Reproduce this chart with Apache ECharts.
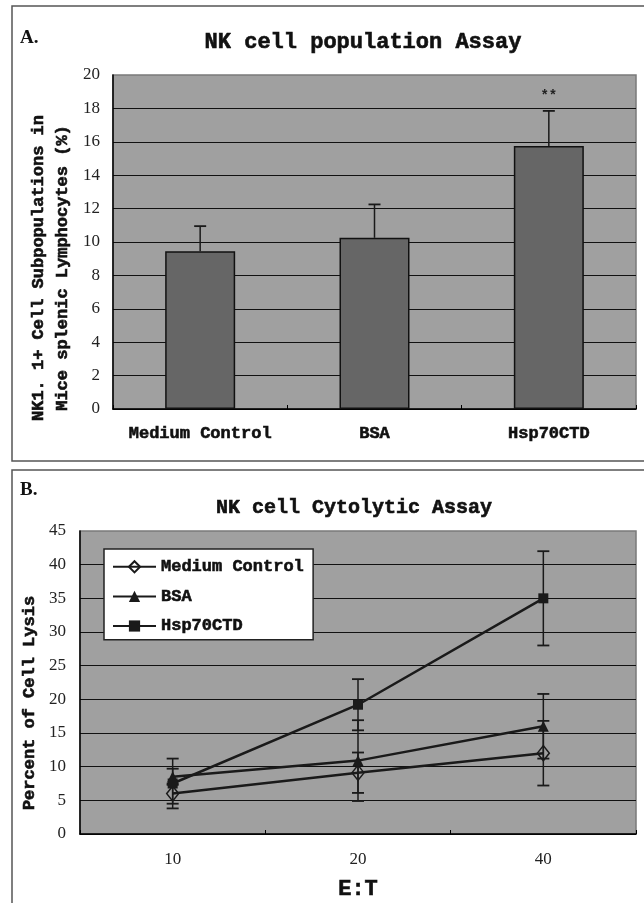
<!DOCTYPE html>
<html><head><meta charset="utf-8">
<script src="https://cdn.jsdelivr.net/npm/echarts@6/dist/echarts.min.js"></script>
<style>html,body{margin:0;padding:0;background:#fff}#c{width:644px;height:903px}</style>
</head><body><div id="c"></div>
<script>
// ---- Panel A data ----
const groupsA = ['Medium Control', 'BSA', 'Hsp70CTD'];
const valuesA = [9.45, 10.25, 15.75];
const errorsA = [1.5, 2.0, 2.1];
const marksA = ['', '', '**'];
const yMinA = 0, yMaxA = 20, yStepA = 2;

// ---- Panel B data ----
const ratiosB = ['10', '20', '40'];
const namesB = ['Medium Control', 'BSA', 'Hsp70CTD'];
const mediumB = [6, 9.1, 12];
const mediumErrB = [1.5, 3, 4.8];
const bsaB = [8.5, 10.9, 16];
const bsaErrB = [1.2, 6, 4.8];
const hspB = [7.5, 19.2, 35];
const hspErrB = [3.7, 3.8, 7];
const yMinB = 0, yMaxB = 45, yStepB = 5;

const MONO = '"Liberation Mono", "DejaVu Sans Mono", monospace';
const SERIF = '"Liberation Serif", serif';
const INK = '#1a1a1a';
const TXT = '#111';
const HEAVY = {textBorderColor: TXT, textBorderWidth: 0.6};

const chart = echarts.init(document.getElementById('c'), null, {renderer: 'canvas'});

function errA(params, api) {
  const i = api.value(0), v = api.value(1), e = api.value(2);
  const p0 = api.coord([i, v]);
  const p1 = api.coord([i, v + e]);
  const children = [
    {type: 'line', shape: {x1: p0[0], y1: p0[1], x2: p1[0], y2: p1[1]}, style: {stroke: INK, lineWidth: 1.5}},
    {type: 'line', shape: {x1: p1[0] - 6, y1: p1[1], x2: p1[0] + 6, y2: p1[1]}, style: {stroke: INK, lineWidth: 1.8}}
  ];
  const m = marksA[params.dataIndex];
  if (m) {
    children.push({type: 'text', x: p1[0], y: p1[1] - 14,
      style: {text: m, align: 'center', verticalAlign: 'middle', font: 'bold 14px ' + MONO, fill: '#222'}});
  }
  return {type: 'group', children};
}

function errB(params, api) {
  const i = api.value(0), v = api.value(1), e = api.value(2);
  const lo = api.coord([i, v - e]);
  const hi = api.coord([i, v + e]);
  return {type: 'group', children: [
    {type: 'line', shape: {x1: lo[0], y1: lo[1], x2: hi[0], y2: hi[1]}, style: {stroke: INK, lineWidth: 1.5}},
    {type: 'line', shape: {x1: hi[0] - 6, y1: hi[1], x2: hi[0] + 6, y2: hi[1]}, style: {stroke: INK, lineWidth: 1.8}},
    {type: 'line', shape: {x1: lo[0] - 6, y1: lo[1], x2: lo[0] + 6, y2: lo[1]}, style: {stroke: INK, lineWidth: 1.8}}
  ]};
}

const errDataB = [];
[[mediumB, mediumErrB], [bsaB, bsaErrB], [hspB, hspErrB]].forEach(([vals, errs]) => {
  vals.forEach((v, i) => errDataB.push([i, v, errs[i]]));
});

const catAxisCommon = {
  type: 'category',
  axisLine: {lineStyle: {color: '#000', width: 1.5}},
  axisTick: {show: true, inside: true, length: 4, lineStyle: {color: '#000', width: 1}},
};
const valAxisCommon = {
  type: 'value',
  axisLine: {show: true, lineStyle: {color: '#000', width: 1.5}},
  axisTick: {show: false},
  axisLabel: {fontFamily: SERIF, fontSize: 17, color: '#222'},
  splitLine: {show: true, showMaxLine: false, lineStyle: {color: '#111', width: 1.2}}
};

const option = {
  animation: false,
  backgroundColor: '#fff',
  grid: [
    {left: 113, top: 75, width: 523, height: 334, show: true, backgroundColor: '#a0a0a0', borderColor: '#7a7a7a', borderWidth: 1.5},
    {left: 80, top: 531, width: 556, height: 303, show: true, backgroundColor: '#a0a0a0', borderColor: '#7a7a7a', borderWidth: 1.5}
  ],
  xAxis: [
    Object.assign({}, catAxisCommon, {gridIndex: 0, data: groupsA,
      axisLabel: Object.assign({interval: 0, hideOverlap: false, margin: 16, fontFamily: MONO, fontWeight: 'bold', fontSize: 17, color: TXT}, HEAVY)}),
    Object.assign({}, catAxisCommon, {gridIndex: 1, data: ratiosB,
      axisLabel: {interval: 0, margin: 17, fontFamily: SERIF, fontSize: 17, color: '#222'},
      name: 'E:T', nameLocation: 'middle', nameGap: 44,
      nameTextStyle: Object.assign({fontFamily: MONO, fontWeight: 'bold', fontSize: 22, color: TXT}, HEAVY)})
  ],
  yAxis: [
    Object.assign({}, valAxisCommon, {gridIndex: 0, min: yMinA, max: yMaxA, interval: yStepA,
      axisLabel: Object.assign({}, valAxisCommon.axisLabel, {margin: 13})}),
    Object.assign({}, valAxisCommon, {gridIndex: 1, min: yMinB, max: yMaxB, interval: yStepB,
      axisLabel: Object.assign({}, valAxisCommon.axisLabel, {margin: 14})})
  ],
  legend: {
    data: namesB, orient: 'vertical', left: 104, top: 549,
    padding: [9, 9, 5, 8], itemGap: 12, itemWidth: 43, itemHeight: 14,
    backgroundColor: '#fff', borderColor: '#222', borderWidth: 1.5, borderRadius: 0,
    textStyle: Object.assign({fontFamily: MONO, fontWeight: 'bold', fontSize: 17, color: TXT}, HEAVY)
  },
  series: [
    {type: 'bar', xAxisIndex: 0, yAxisIndex: 0, data: valuesA, barWidth: 70,
      itemStyle: {color: '#666666', borderColor: '#111', borderWidth: 1.5}, z: 2},
    {type: 'custom', xAxisIndex: 0, yAxisIndex: 0, renderItem: errA,
      data: valuesA.map((v, i) => [i, v, errorsA[i]]), encode: {x: 0, y: 1}, z: 3},
    {type: 'custom', xAxisIndex: 1, yAxisIndex: 1, renderItem: errB,
      data: errDataB, encode: {x: 0, y: 1}, z: 2},
    {type: 'line', name: namesB[0], xAxisIndex: 1, yAxisIndex: 1, data: mediumB,
      symbol: 'diamond', symbolSize: [12, 15],
      itemStyle: {color: 'rgba(0,0,0,0)', borderColor: INK, borderWidth: 1.5},
      lineStyle: {color: INK, width: 2.5}, z: 3},
    {type: 'line', name: namesB[1], xAxisIndex: 1, yAxisIndex: 1, data: bsaB,
      symbol: 'triangle', symbolSize: 11,
      itemStyle: {color: INK}, lineStyle: {color: INK, width: 2.5}, z: 3},
    {type: 'line', name: namesB[2], xAxisIndex: 1, yAxisIndex: 1, data: hspB,
      symbol: 'rect', symbolSize: 10,
      itemStyle: {color: INK}, lineStyle: {color: INK, width: 2.5}, z: 3}
  ],
  graphic: [
    {type: 'rect', shape: {x: 12, y: 6, width: 640, height: 455}, style: {fill: 'none', stroke: '#555', lineWidth: 1.5}, z: -1},
    {type: 'rect', shape: {x: 12, y: 470, width: 640, height: 440}, style: {fill: 'none', stroke: '#555', lineWidth: 1.5}, z: -1},
    {type: 'text', x: 20, y: 38, style: {text: 'A.', font: 'bold 19px ' + SERIF, fill: TXT, verticalAlign: 'middle'}},
    {type: 'text', x: 20, y: 490, style: {text: 'B.', font: 'bold 19px ' + SERIF, fill: TXT, verticalAlign: 'middle'}},
    {type: 'text', x: 363, y: 42, style: {text: 'NK cell population Assay', font: 'bold 22px ' + MONO, fill: TXT, stroke: TXT, lineWidth: 0.6, align: 'center', verticalAlign: 'middle'}},
    {type: 'text', x: 354, y: 508, style: {text: 'NK cell Cytolytic Assay', font: 'bold 20px ' + MONO, fill: TXT, stroke: TXT, lineWidth: 0.6, align: 'center', verticalAlign: 'middle'}},
    {type: 'text', x: 51, y: 268, rotation: Math.PI / 2,
      style: {text: 'NK1. 1+ Cell Subpopulations in\nMice splenic Lymphocytes (%)', font: 'bold 17px ' + MONO, lineHeight: 24, fill: TXT, stroke: TXT, lineWidth: 0.6, align: 'center', verticalAlign: 'middle'}},
    {type: 'text', x: 30, y: 703, rotation: Math.PI / 2,
      style: {text: 'Percent of Cell Lysis', font: 'bold 17px ' + MONO, fill: TXT, stroke: TXT, lineWidth: 0.6, align: 'center', verticalAlign: 'middle'}}
  ]
};
chart.setOption(option);
</script></body></html>
